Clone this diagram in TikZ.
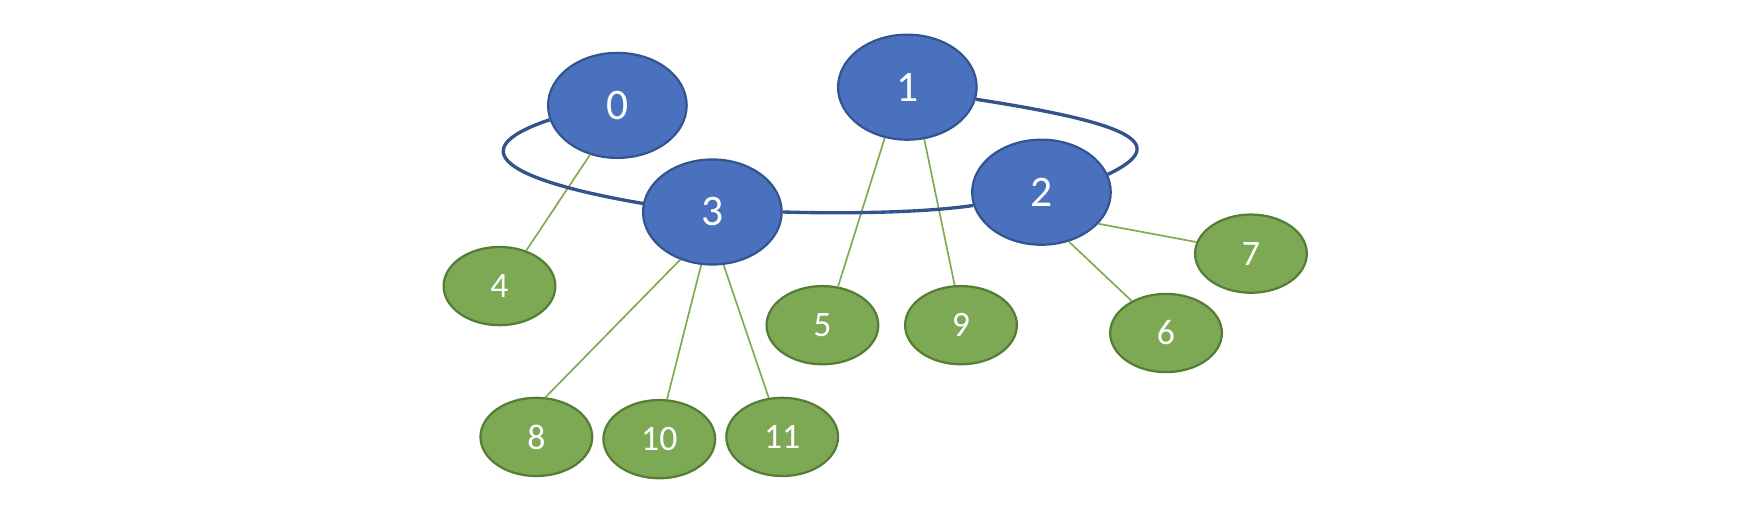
\documentclass[tikz,border=0pt]{standalone}
\usepackage{fontspec}
\setmainfont{Carlito}
\usetikzlibrary{shapes.geometric}
\definecolor{bfill}{RGB}{74,113,189}
\definecolor{bdraw}{RGB}{50,84,145}
\definecolor{gfill}{RGB}{125,169,84}
\definecolor{gdraw}{RGB}{86,125,54}
\definecolor{gline}{RGB}{125,172,80}
\definecolor{bline}{RGB}{52,82,140}
\tikzset{
  bnode/.style={ellipse, draw=bdraw, line width=1pt, fill=bfill, text=white,
    minimum width=62pt, minimum height=47pt, inner sep=0pt, font=\fontsize{19.5}{19.5}\selectfont},
  gnode/.style={ellipse, draw=gdraw, line width=1pt, fill=gfill, text=white,
    minimum width=50pt, minimum height=35pt, inner sep=0pt, font=\fontsize{16}{16}\selectfont},
  bedge/.style={draw=bline, line width=1.5pt},
  gedge/.style={draw=gline, line width=0.75pt}
}
\begin{document}
\begin{tikzpicture}[x=0.5pt,y=-0.5pt]
\useasboundingbox (0,0) rectangle (1567,467);
\node[bnode] (n0) at (552.5,94.3) {0};
\node[bnode] (n1) at (812,78) {1};
\node[bnode] (n2) at (932,172) {2};
\node[bnode] (n3) at (637.5,189.7) {3};
\node[gnode] (n4) at (447,256) {4};
\node[gnode] (n5) at (736,291) {5};
\node[gnode] (n9) at (860,291) {9};
\node[gnode] (n6) at (1043.5,298) {6};
\node[gnode] (n7) at (1119.5,227) {7};
\node[gnode] (n8) at (480,391) {8};
\node[gnode] (n10) at (590,393) {10};
\node[gnode] (n11) at (700,391) {11};
\draw[gedge] (n0.241.8) -- (n4.53.8);
\draw[gedge] (n3.236.7) -- (n8.77.3);
\draw[gedge] (n3.258.9) -- (n10.79);
\draw[gedge] (n3.282) -- (n11.109.5);
\draw[gedge] (n1.246.1) -- (n5.68.2);
\draw[gedge] (n1.288.1) -- (n9.99.5);
\draw[gedge] (n2.299.7) -- (n6.137.6);
\draw[gedge] (n2.331) -- (n7.168.9);
\draw[bedge] (n0.192) .. controls (403,137) and (469,164) .. (n3.173);
\draw[bedge] (n1.350) .. controls (1010,110) and (1050,128) .. (n2.15);
\draw[bedge] (n3.east) .. controls (760,191.5) and (830,190) .. (n2.191);
\end{tikzpicture}
\end{document}
